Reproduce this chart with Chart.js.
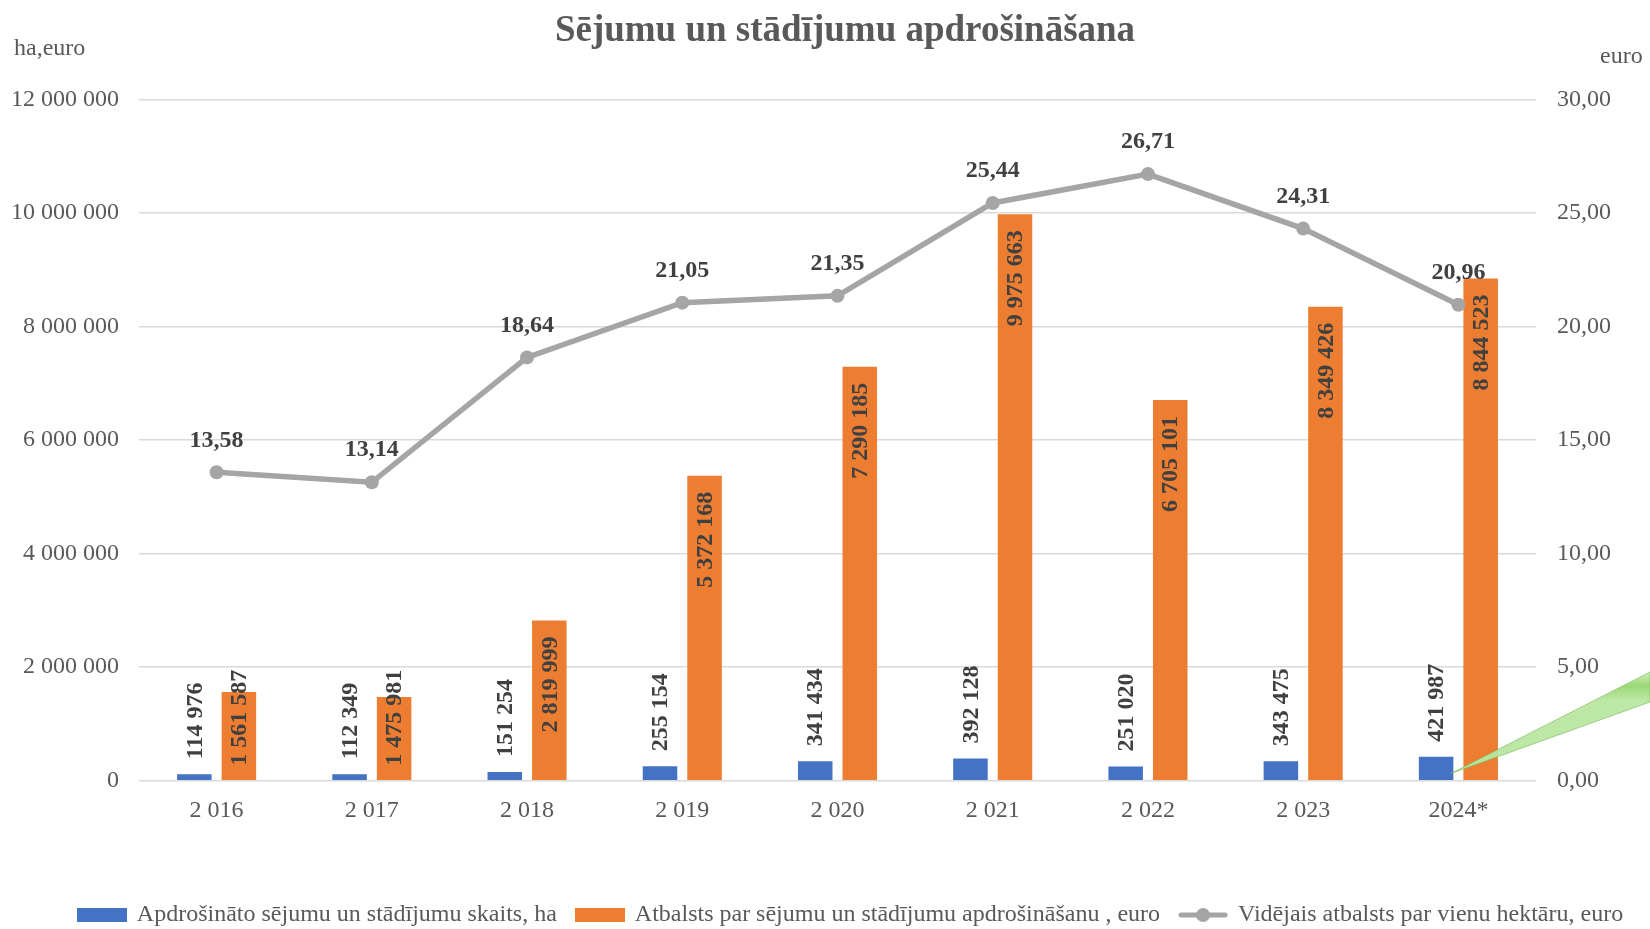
<!DOCTYPE html>
<html>
<head>
<meta charset="utf-8">
<script src="https://cdn.jsdelivr.net/npm/chart.js@4.4.1/dist/chart.umd.min.js"></script>
<style>
  html, body { margin: 0; padding: 0; background: #ffffff; }
  #wrap { width: 1650px; height: 929px; }
</style>
</head>
<body>
<div id="wrap"><canvas id="c" width="1650" height="929"></canvas></div>
<script>
// ---- data ----
const categories = ['2 016', '2 017', '2 018', '2 019', '2 020', '2 021', '2 022', '2 023', '2024*'];
const hectares = [114976, 112349, 151254, 255154, 341434, 392128, 251020, 343475, 421987];
const supportEuro = [1561587, 1475981, 2819999, 5372168, 7290185, 9975663, 6705101, 8349426, 8844523];
const avgPerHa = [13.58, 13.14, 18.64, 21.05, 21.35, 25.44, 26.71, 24.31, 20.96];
const seriesNames = [
  'Apdrošināto sējumu un stādījumu skaits, ha',
  'Atbalsts par sējumu un stādījumu apdrošināšanu , euro',
  'Vidējais atbalsts par vienu hektāru, euro'
];
const titleText = 'Sējumu un stādījumu apdrošināšana';
const leftUnit = 'ha,euro';
const rightUnit = 'euro';
const leftTicks = { min: 0, max: 12000000, step: 2000000 };
const rightTicks = { min: 0, max: 30, step: 5 };

const FONT = "'Liberation Serif', 'Times New Roman', serif";
const BLUE = '#4472C4', ORANGE = '#ED7D31', GRAY = '#A5A5A5';
const TXT = '#595959', LBL = '#404040';

function spaced(n) { return String(Math.round(n)).replace(/\B(?=(\d{3})+(?!\d))/g, ' '); }
function comma2(n) { return Number(n).toFixed(2).replace('.', ','); }

Chart.defaults.font.family = FONT;
Chart.defaults.color = TXT;

// legend symbols
function boxSymbol(color) {
  const c = document.createElement('canvas');
  c.width = 50; c.height = 14;
  const g = c.getContext('2d');
  g.fillStyle = color; g.fillRect(0, 0, 50, 14);
  return c;
}
function lineSymbol(color) {
  const c = document.createElement('canvas');
  c.width = 50; c.height = 16;
  const g = c.getContext('2d');
  g.strokeStyle = color; g.lineWidth = 5; g.lineCap = 'round';
  g.beginPath(); g.moveTo(3, 8); g.lineTo(47, 8); g.stroke();
  g.fillStyle = color; g.beginPath(); g.arc(25, 8, 7, 0, Math.PI * 2); g.fill();
  return c;
}
const legendSymbols = [boxSymbol(BLUE), boxSymbol(ORANGE), lineSymbol(GRAY)];

const shiftPlugin = {
  id: 'shiftBlocks',
  afterLayout(chart) {
    if (chart.titleBlock) { chart.titleBlock.left += 20; chart.titleBlock.right += 20; }
    if (chart.legend) { chart.legend.left += 26; chart.legend.right += 26; }
  }
};

const labelPlugin = {
  id: 'valueLabels',
  afterDatasetsDraw(chart) {
    const ctx = chart.ctx;
    const yScale = chart.scales.y;
    const base = yScale.getPixelForValue(0);
    ctx.save();
    ctx.font = 'bold 24px ' + FONT;
    ctx.fillStyle = LBL;
    ctx.textBaseline = 'middle';
    // blue bars: outside end, rotated
    chart.getDatasetMeta(0).data.forEach((bar, i) => {
      const t = spaced(hectares[i]);
      ctx.save();
      ctx.translate(bar.x, bar.y - 15);
      ctx.rotate(-Math.PI / 2);
      ctx.textAlign = 'left';
      ctx.fillText(t, 0, 1);
      ctx.restore();
    });
    // orange bars: inside end, rotated
    chart.getDatasetMeta(1).data.forEach((bar, i) => {
      const t = spaced(supportEuro[i]);
      const w = ctx.measureText(t).width;
      const endY = Math.min(bar.y + 16, base - 15 - w);
      ctx.save();
      ctx.translate(bar.x, endY);
      ctx.rotate(-Math.PI / 2);
      ctx.textAlign = 'right';
      ctx.fillText(t, 0, 1);
      ctx.restore();
    });
    // line labels
    ctx.textAlign = 'center';
    chart.getDatasetMeta(2).data.forEach((pt, i) => {
      ctx.fillText(comma2(avgPerHa[i]), pt.x, pt.y - 32);
    });
    // stray green pointer shape seen in the reference (bottom right)
    const lastBar = chart.getDatasetMeta(0).data[categories.length - 1];
    const tipX = lastBar.x + lastBar.width / 2 - 3, tipY = base - 7;
    const endX = chart.width;
    const grad = ctx.createLinearGradient(endX, 672, endX, 700);
    grad.addColorStop(0, 'rgba(200,240,180,0.95)');
    grad.addColorStop(0.5, 'rgba(150,215,110,0.95)');
    grad.addColorStop(1, 'rgba(185,230,160,0.95)');
    ctx.fillStyle = grad;
    ctx.beginPath();
    ctx.moveTo(tipX, tipY);
    ctx.lineTo(endX, 672);
    ctx.lineTo(endX, 702);
    ctx.closePath();
    ctx.fill();
    ctx.strokeStyle = 'rgba(120,180,90,0.6)';
    ctx.lineWidth = 1;
    ctx.stroke();
    ctx.restore();
  },
  afterDraw(chart) {
    const ctx = chart.ctx;
    ctx.save();
    ctx.font = '24px ' + FONT;
    ctx.fillStyle = TXT;
    ctx.textBaseline = 'middle';
    ctx.textAlign = 'left';
    ctx.fillText(leftUnit, 14, 49);
    ctx.fillText(rightUnit, 1600, 57);
    ctx.restore();
  }
};

new Chart(document.getElementById('c'), {
  data: {
    labels: categories,
    datasets: [
      { type: 'bar', label: seriesNames[0], data: hectares, backgroundColor: BLUE, yAxisID: 'y', order: 1,
        categoryPercentage: 0.574, barPercentage: 0.775 },
      { type: 'bar', label: seriesNames[1], data: supportEuro, backgroundColor: ORANGE, yAxisID: 'y', order: 1,
        categoryPercentage: 0.574, barPercentage: 0.775 },
      { type: 'line', label: seriesNames[2], data: avgPerHa, borderColor: GRAY, backgroundColor: GRAY,
        borderWidth: 5.5, pointRadius: 7, pointBackgroundColor: GRAY, pointBorderWidth: 0, tension: 0,
        yAxisID: 'y1', order: 0 }
    ]
  },
  options: {
    responsive: false,
    animation: false,
    layout: { padding: { left: 0, right: 0, top: 0, bottom: -8 } },
    plugins: {
      tooltip: { enabled: false },
      title: {
        display: true, text: titleText, color: TXT,
        font: { size: 37, weight: 'bold', family: FONT },
        padding: { top: 9, bottom: 46 }
      },
      legend: {
        position: 'bottom',
        labels: {
          usePointStyle: true,
          pointStyleWidth: 46,
          boxHeight: 24,
          padding: 20,
          color: TXT,
          font: { size: 24, family: FONT },
          generateLabels: () => seriesNames.map((n, i) => ({
            text: n, pointStyle: legendSymbols[i], fillStyle: 'transparent', strokeStyle: 'transparent',
            lineWidth: 0, hidden: false, datasetIndex: i, fontColor: TXT
          }))
        }
      }
    },
    scales: {
      x: {
        grid: { display: false, drawTicks: false },
        border: { display: false },
        ticks: { font: { size: 24 }, color: TXT, padding: 16, maxRotation: 0 },
        afterFit(s) { s.height = 102.3; }
      },
      y: {
        position: 'left', min: leftTicks.min, max: leftTicks.max,
        grid: { color: '#D9D9D9', lineWidth: 1.5, drawTicks: false },
        border: { display: false },
        ticks: { stepSize: leftTicks.step, font: { size: 24 }, color: TXT, padding: 20, callback: v => spaced(v) },
        afterFit(s) { s.width = 139; }
      },
      y1: {
        position: 'right', min: rightTicks.min, max: rightTicks.max,
        grid: { display: false, drawTicks: false },
        border: { display: false },
        ticks: { stepSize: rightTicks.step, font: { size: 24 }, color: TXT, padding: 21, callback: v => comma2(v) },
        afterFit(s) { s.width = 114; }
      }
    }
  },
  plugins: [shiftPlugin, labelPlugin]
});
</script>
</body>
</html>
